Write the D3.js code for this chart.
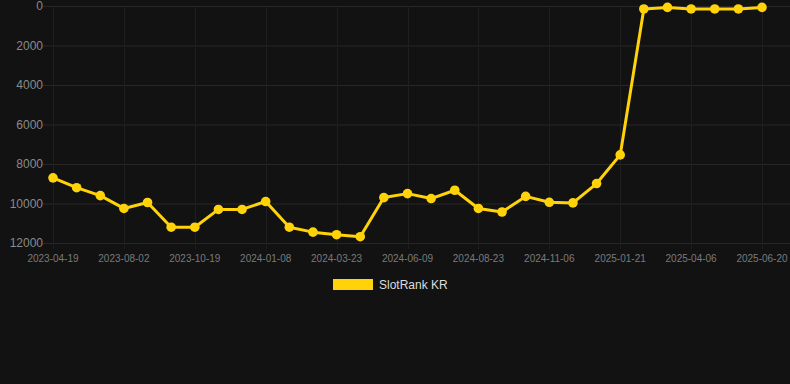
<!DOCTYPE html>
<html>
<head>
<meta charset="utf-8">
<script src="https://cdn.jsdelivr.net/npm/d3@7"></script>
<style>
  html, body { margin: 0; padding: 0; background: #121212; }
  svg { display: block; font-family: "Liberation Sans", Arial, sans-serif; }
</style>
</head>
<body>
<div class="chart"></div>
<script>
// categories (one point per date, every third one labelled)
var dates = [
  "2023-04-19", "2023-05-14", "2023-06-08", "2023-08-02", "2023-08-28", "2023-09-23",
  "2023-10-19", "2023-11-14", "2023-12-10", "2024-01-08", "2024-02-01", "2024-02-26",
  "2024-03-23", "2024-04-18", "2024-05-14", "2024-06-09", "2024-07-04", "2024-07-29",
  "2024-08-23", "2024-09-17", "2024-10-12", "2024-11-06", "2024-12-01", "2024-12-27",
  "2025-01-21", "2025-02-14", "2025-03-11", "2025-04-06", "2025-04-30", "2025-05-26",
  "2025-06-20"
];
var rankKR = [
  8700, 9200, 9600, 10250, 9950, 11200, 11200, 10300, 10300, 9900, 11200, 11450,
  11580, 11680, 9700, 9500, 9750, 9330, 10250, 10430, 9640, 9940, 9970, 8990,
  7540, 150, 70, 150, 150, 150, 70
];
var yTicks = [0, 2000, 4000, 6000, 8000, 10000, 12000];
var seriesName = "SlotRank KR";

var W = 790, H = 384;
var gold = "#ffd20a";

var svg = d3.select(".chart").append("svg")
  .attr("width", W)
  .attr("height", H);

var x = d3.scalePoint()
  .domain(dates)
  .range([53, 762]);

var y = d3.scaleLinear()
  .domain([0, 12000])
  .range([6, 243]);

// horizontal grid + y labels
svg.append("g")
  .selectAll("line")
  .data(yTicks)
  .enter().append("line")
    .attr("x1", 43).attr("x2", W)
    .attr("y1", function(d) { return y(d) + 0.5; })
    .attr("y2", function(d) { return y(d) + 0.5; })
    .attr("stroke", "#262626")
    .attr("stroke-width", 1);

svg.append("g")
  .selectAll("text")
  .data(yTicks)
  .enter().append("text")
    .attr("x", 43)
    .attr("y", function(d) { return y(d); })
    .attr("dy", "0.36em")
    .attr("text-anchor", "end")
    .attr("fill", "#8a8a8a")
    .style("font-size", "12px")
    .text(function(d) { return d; });

// vertical grid at labelled dates
var labelled = dates.filter(function(d, i) { return i % 3 === 0; });

svg.append("g")
  .selectAll("line")
  .data(labelled)
  .enter().append("line")
    .attr("x1", function(d) { return Math.round(x(d)) + 0.5; })
    .attr("x2", function(d) { return Math.round(x(d)) + 0.5; })
    .attr("y1", y(0))
    .attr("y2", y(12000) + 6)
    .attr("stroke", "#1f1f1f")
    .attr("stroke-width", 1);

svg.append("g")
  .selectAll("text")
  .data(labelled)
  .enter().append("text")
    .attr("x", function(d) { return x(d); })
    .attr("y", 262)
    .attr("text-anchor", "middle")
    .attr("fill", "#7a7a7a")
    .style("font-size", "10px")
    .text(function(d) { return d; });

// line + points
var line = d3.line()
  .x(function(d, i) { return x(dates[i]); })
  .y(function(d) { return y(d); });

svg.append("path")
  .datum(rankKR)
  .attr("fill", "none")
  .attr("stroke", gold)
  .attr("stroke-width", 3)
  .attr("stroke-linejoin", "round")
  .attr("d", line);

svg.append("g")
  .selectAll("circle")
  .data(rankKR)
  .enter().append("circle")
    .attr("cx", function(d, i) { return x(dates[i]); })
    .attr("cy", function(d) { return y(d); })
    .attr("r", 4.8)
    .attr("fill", gold);

// legend
var legend = svg.append("g").attr("class", "legend");
legend.append("rect")
  .attr("x", 333).attr("y", 279)
  .attr("width", 40).attr("height", 11)
  .attr("fill", gold);
legend.append("text")
  .attr("x", 379).attr("y", 285)
  .attr("dy", "0.36em")
  .attr("fill", "#dcdcdc")
  .style("font-size", "12px")
  .text(seriesName);
</script>
</body>
</html>
